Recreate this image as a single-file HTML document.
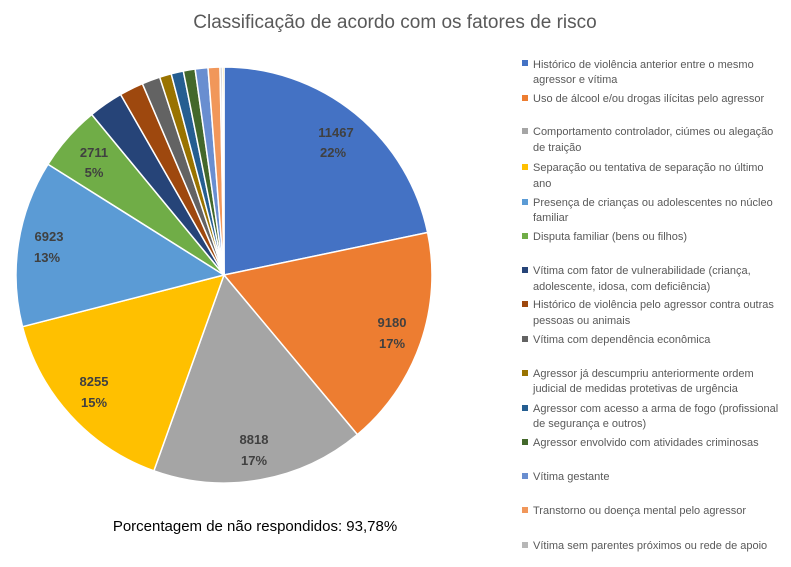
<!DOCTYPE html>
<html><head><meta charset="utf-8"><style>
body{margin:0;background:#fff;}
svg{display:block;font-family:"Liberation Sans",sans-serif;}
.l{font-size:11px;fill:#595959;}
.d{font-size:13px;font-weight:bold;fill:#404040;text-anchor:middle;}
</style></head><body>
<svg width="791" height="567" viewBox="0 0 791 567">
<rect width="791" height="567" fill="#fff"/>
<text x="395" y="28" font-size="19" fill="#595959" text-anchor="middle">Classificação de acordo com os fatores de risco</text>
<g stroke="#fff" stroke-width="1.5" stroke-linejoin="round">
<path d="M224,275 L224,67 A208,208 0 0 1 427.6,232.5 Z" fill="#4472C4"/>
<path d="M224,275 L427.6,232.5 A208,208 0 0 1 357.4,434.6 Z" fill="#ED7D31"/>
<path d="M224,275 L357.4,434.6 A208,208 0 0 1 153.9,470.8 Z" fill="#A5A5A5"/>
<path d="M224,275 L153.9,470.8 A208,208 0 0 1 22.5,326.7 Z" fill="#FFC000"/>
<path d="M224,275 L22.5,326.7 A208,208 0 0 1 48.0,164.2 Z" fill="#5B9BD5"/>
<path d="M224,275 L48.0,164.2 A208,208 0 0 1 91.7,114.5 Z" fill="#70AD47"/>
<path d="M224,275 L91.7,114.5 A208,208 0 0 1 120.6,94.5 Z" fill="#264478"/>
<path d="M224,275 L120.6,94.5 A208,208 0 0 1 142.4,83.7 Z" fill="#9E480E"/>
<path d="M224,275 L142.4,83.7 A208,208 0 0 1 159.7,77.2 Z" fill="#636363"/>
<path d="M224,275 L159.7,77.2 A208,208 0 0 1 171.2,73.8 Z" fill="#997300"/>
<path d="M224,275 L171.2,73.8 A208,208 0 0 1 183.3,71.0 Z" fill="#255E91"/>
<path d="M224,275 L183.3,71.0 A208,208 0 0 1 195.1,69.0 Z" fill="#43682B"/>
<path d="M224,275 L195.1,69.0 A208,208 0 0 1 208.0,67.6 Z" fill="#698ED0"/>
<path d="M224,275 L208.0,67.6 A208,208 0 0 1 220.0,67.0 Z" fill="#F1975A"/>
<path d="M224,275 L220.0,67.0 A208,208 0 0 1 222.2,67.0 Z" fill="#B7B7B7"/>
<path d="M224,275 L222.2,67.0 A208,208 0 0 1 224,67 Z" fill="#FFCD33"/>
</g>
<text class="d" x="336" y="137">11467</text><text class="d" x="333" y="157">22%</text>
<text class="d" x="392" y="327">9180</text><text class="d" x="392" y="348">17%</text>
<text class="d" x="254" y="444">8818</text><text class="d" x="254" y="465">17%</text>
<text class="d" x="94" y="386">8255</text><text class="d" x="94" y="407">15%</text>
<text class="d" x="49" y="241">6923</text><text class="d" x="47" y="262">13%</text>
<text class="d" x="94" y="157">2711</text><text class="d" x="94" y="177">5%</text>
<text x="255" y="531" font-size="15" fill="#000" text-anchor="middle">Porcentagem de não respondidos: 93,78%</text>
<g>
<rect x="522" y="60" width="6" height="6" fill="#4472C4"/><text class="l" x="533" y="68">Histórico de violência anterior entre o mesmo</text><text class="l" x="533" y="83">agressor e vítima</text>
<rect x="522" y="95" width="6" height="6" fill="#ED7D31"/><text class="l" x="533" y="102">Uso de álcool e/ou drogas ilícitas pelo agressor</text>
<rect x="522" y="128" width="6" height="6" fill="#A5A5A5"/><text class="l" x="533" y="135">Comportamento controlador, ciúmes ou alegação</text><text class="l" x="533" y="151">de traição</text>
<rect x="522" y="164" width="6" height="6" fill="#FFC000"/><text class="l" x="533" y="171">Separação ou tentativa de separação no último</text><text class="l" x="533" y="187">ano</text>
<rect x="522" y="199" width="6" height="6" fill="#5B9BD5"/><text class="l" x="533" y="206">Presença de crianças ou adolescentes no núcleo</text><text class="l" x="533" y="221">familiar</text>
<rect x="522" y="233" width="6" height="6" fill="#70AD47"/><text class="l" x="533" y="240">Disputa familiar (bens ou filhos)</text>
<rect x="522" y="267" width="6" height="6" fill="#264478"/><text class="l" x="533" y="274">Vítima com fator de vulnerabilidade (criança,</text><text class="l" x="533" y="290">adolescente, idosa, com deficiência)</text>
<rect x="522" y="301" width="6" height="6" fill="#9E480E"/><text class="l" x="533" y="308">Histórico de violência pelo agressor contra outras</text><text class="l" x="533" y="324">pessoas ou animais</text>
<rect x="522" y="336" width="6" height="6" fill="#636363"/><text class="l" x="533" y="343">Vítima com dependência econômica</text>
<rect x="522" y="370" width="6" height="6" fill="#997300"/><text class="l" x="533" y="377">Agressor já descumpriu anteriormente ordem</text><text class="l" x="533" y="392">judicial de medidas protetivas de urgência</text>
<rect x="522" y="405" width="6" height="6" fill="#255E91"/><text class="l" x="533" y="412">Agressor com acesso a arma de fogo (profissional</text><text class="l" x="533" y="427">de segurança e outros)</text>
<rect x="522" y="439" width="6" height="6" fill="#43682B"/><text class="l" x="533" y="446">Agressor envolvido com atividades criminosas</text>
<rect x="522" y="473" width="6" height="6" fill="#698ED0"/><text class="l" x="533" y="480">Vítima gestante</text>
<rect x="522" y="507" width="6" height="6" fill="#F1975A"/><text class="l" x="533" y="514">Transtorno ou doença mental pelo agressor</text>
<rect x="522" y="542" width="6" height="6" fill="#B7B7B7"/><text class="l" x="533" y="549">Vítima sem parentes próximos ou rede de apoio</text>
</g>
</svg>
</body></html>
